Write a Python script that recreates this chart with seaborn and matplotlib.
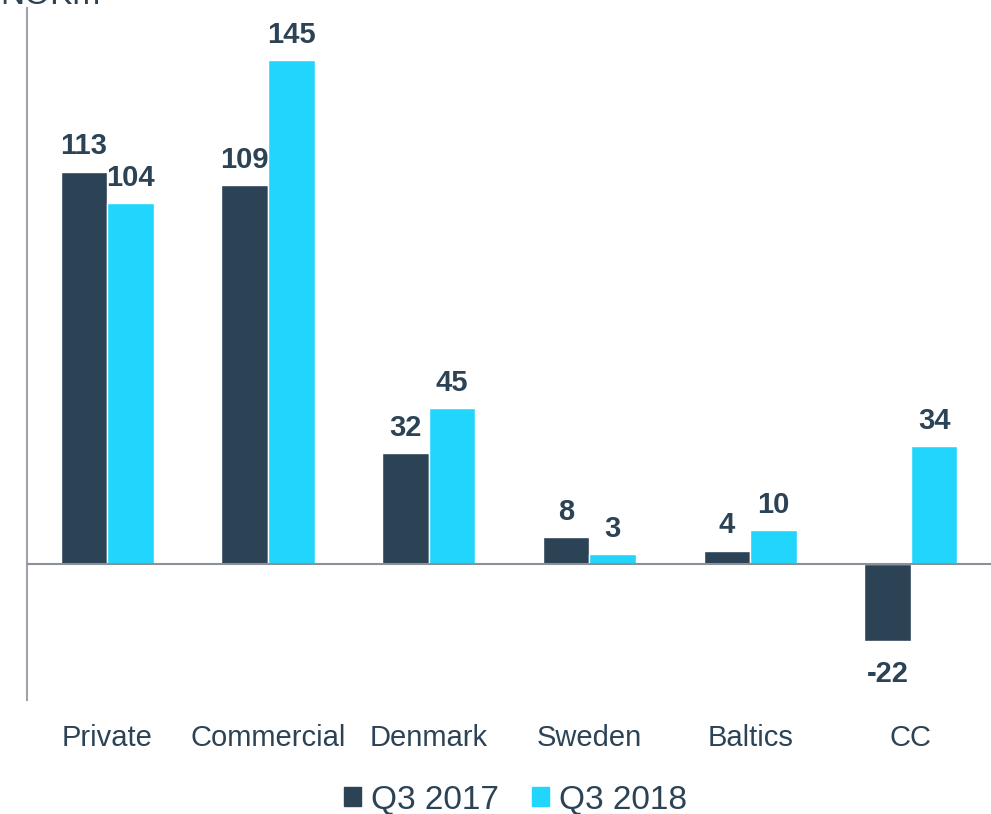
import pandas as pd
import matplotlib
matplotlib.use("Agg")
import matplotlib.pyplot as plt
import seaborn as sns

categories = ['Private', 'Commercial', 'Denmark', 'Sweden', 'Baltics', 'CC']
q3_2017 = [113, 109, 32, 8, 4, -22]
q3_2018 = [104, 145, 45, 3, 10, 34]
series = ['Q3 2017', 'Q3 2018']

dark = '#2C4356'
light = '#22D5FD'

df = pd.DataFrame({
    'segment': categories * 2,
    'value': q3_2017 + q3_2018,
    'period': [series[0]] * len(categories) + [series[1]] * len(categories),
})

sns.set_style('white')
plt.rcParams['font.family'] = ['Liberation Sans', 'DejaVu Sans']

fig = plt.figure(figsize=(9.91, 8.14), dpi=100)
ax = fig.add_axes([0.0272, 0.14, 0.973, 0.85])

sns.barplot(data=df, x='segment', y='value', hue='period', order=categories,
            hue_order=series, palette=[dark, light], width=0.58, gap=0,
            saturation=1, ax=ax, legend=False)

ax.set_ylim(-39, 160)
ax.set_xlim(-0.5, 5.5)
ax.axhline(0, color='#8C9099', lw=1.5, zorder=3)

for cont in ax.containers:
    for bar in cont:
        v = bar.get_height()
        x = bar.get_x() + bar.get_width() / 2
        if v >= 0:
            ax.annotate(f'{v:.0f}', (x, v), xytext=(0, 8), textcoords='offset points',
                        ha='center', va='bottom', fontsize=21, fontweight='bold', color=dark)
        else:
            ax.annotate(f'{v:.0f}', (x, v), xytext=(0, -14), textcoords='offset points',
                        ha='center', va='top', fontsize=21, fontweight='bold', color=dark)

for s in ['top', 'right', 'bottom']:
    ax.spines[s].set_visible(False)
ax.spines['left'].set_color('#A0A3AB')
ax.spines['left'].set_linewidth(1.5)
ax.set_yticks([])
ax.set_xlabel('')
ax.set_ylabel('')
ax.tick_params(axis='x', length=0, pad=17, labelsize=21, labelcolor=dark)

handles = [plt.Rectangle((0, 0), 1, 1, color=dark), plt.Rectangle((0, 0), 1, 1, color=light)]
fig.legend(handles, series, loc='center', bbox_to_anchor=(0.52, 0.017), ncol=2, frameon=False,
           fontsize=24, labelcolor=dark, handlelength=0.5, handleheight=0.5,
           handletextpad=0.3, columnspacing=1.0)

fig.text(0.0, 1 - 4 / 814, 'NOKm', fontsize=24, color=dark, va='baseline', ha='left')

fig.savefig('out.png', dpi=100)
